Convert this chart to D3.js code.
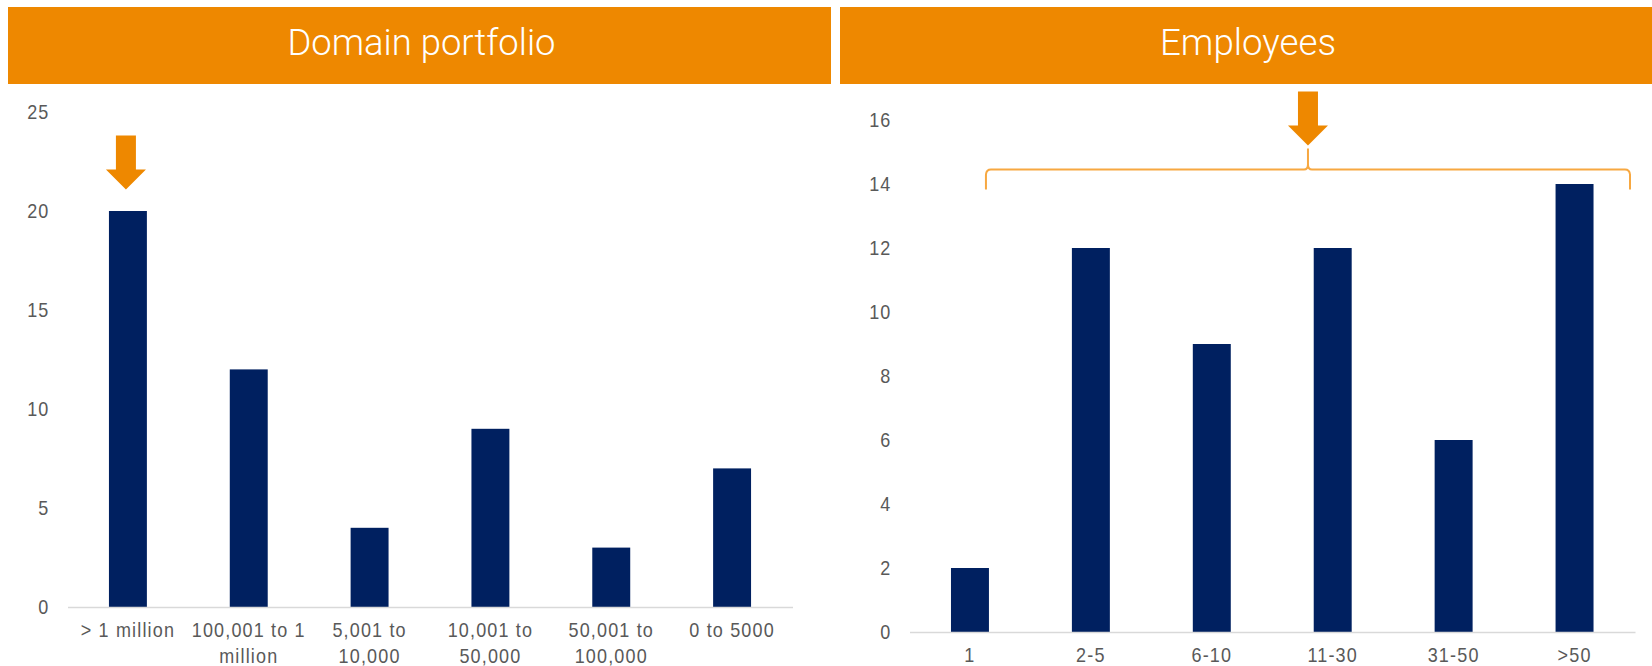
<!DOCTYPE html>
<html>
<head>
<meta charset="utf-8">
<script src="https://cdn.jsdelivr.net/npm/d3@7"></script>
<style>
  html, body { margin: 0; padding: 0; background: #ffffff; }
  svg { display: block; font-family: "Liberation Sans", Arial, sans-serif; }
</style>
</head>
<body>
<svg id="chart" width="1652" height="666"></svg>
<script>
// ---- Data ----
const portfolioCategories = ["> 1 million", "100,001 to 1 million", "5,001 to 10,000", "10,001 to 50,000", "50,001 to 100,000", "0 to 5000"];
const portfolioTickLabels = [["> 1 million"], ["100,001 to 1", "million"], ["5,001 to", "10,000"], ["10,001 to", "50,000"], ["50,001 to", "100,000"], ["0 to 5000"]];
const portfolioValues = [20, 12, 4, 9, 3, 7];
const portfolioTicks = [0, 5, 10, 15, 20, 25];

const employeeCategories = ["1", "2-5", "6-10", "11-30", "31-50", ">50"];
const employeeTickLabels = [["1"], ["2-5"], ["6-10"], ["11-30"], ["31-50"], [">50"]];
const employeeValues = [2, 12, 9, 12, 6, 14];
const employeeTicks = [0, 2, 4, 6, 8, 10, 12, 14, 16];

const panelTitles = ["Domain portfolio", "Employees"];

// ---- Styling ----
const ORANGE = "#EE8800";
const BRACE = "#F7A841";
const NAVY = "#002060";
const TEXT = "#595959";
const AXIS = "#D9D9D9";

const svg = d3.select("#chart");

// Header banners
const banners = [
  { x: 8, w: 823, title: panelTitles[0], tw: 268 },
  { x: 840, w: 812, title: panelTitles[1], tw: 176 }
];
banners.forEach(b => {
  svg.append("rect")
    .attr("x", b.x).attr("y", 7).attr("width", b.w).attr("height", 77)
    .attr("fill", ORANGE);
  svg.append("text")
    .attr("x", b.x + b.w / 2 + 2).attr("y", 55)
    .attr("text-anchor", "middle")
    .attr("fill", "#ffffff")
    .attr("textLength", b.tw)
    .attr("lengthAdjust", "spacingAndGlyphs")
    .style("font-family", "Roboto, 'Open Sans', sans-serif")
    .style("font-weight", 300)
    .style("font-size", "36px")
    .text(b.title);
});

function styleLabel(sel) {
  sel.attr("fill", TEXT)
    .style("font-size", "20px")
    .style("letter-spacing", "1.3px")
    .attr("transform", "scale(0.9,1)");
}

function drawPanel(cfg) {
  const g = svg.append("g");
  const x = d3.scaleBand().domain(cfg.cats).range(cfg.xRange)
    .paddingInner(0.686).paddingOuter(0.343);
  const y = d3.scaleLinear().domain([0, cfg.yMax]).range(cfg.yRange);

  // Bars
  g.selectAll("rect.bar")
    .data(cfg.cats.map((c, i) => ({ c, v: cfg.vals[i] })))
    .join("rect")
    .attr("class", "bar")
    .attr("x", d => x(d.c))
    .attr("width", x.bandwidth())
    .attr("y", d => y(d.v))
    .attr("height", d => y(0) - y(d.v))
    .attr("fill", NAVY);

  // Value axis (labels only)
  const ya = g.append("g")
    .attr("transform", `translate(${cfg.xRange[0]},0)`)
    .call(d3.axisLeft(y).tickValues(cfg.ticks).tickSize(0).tickPadding(20));
  ya.select(".domain").remove();
  ya.selectAll("text").call(styleLabel);

  // Category axis
  const xa = g.append("g")
    .attr("transform", `translate(0,${cfg.yRange[0]})`)
    .call(d3.axisBottom(x).tickSize(0).tickSizeOuter(0).tickPadding(16).tickFormat(() => ""));
  xa.select(".domain").attr("stroke", AXIS).attr("stroke-width", 1.5);
  xa.selectAll(".tick text").each(function (d) {
    const t = d3.select(this).attr("dy", null).call(styleLabel);
    const lines = cfg.labels[cfg.cats.indexOf(d)];
    lines.forEach((ln, i) => {
      t.append("tspan").attr("x", 0).attr("dy", i === 0 ? "0.71em" : "26px").text(ln);
    });
  });
  return { g, x, y };
}

function arrow(g, cx, tipY) {
  const sh = 10, hh = 20, hl = 20, sl = 34;
  const pts = [
    [cx - sh, tipY - hl - sl], [cx + sh, tipY - hl - sl], [cx + sh, tipY - hl],
    [cx + hh, tipY - hl], [cx, tipY], [cx - hh, tipY - hl], [cx - sh, tipY - hl]
  ];
  g.append("polygon").attr("points", pts.map(p => p.join(",")).join(" ")).attr("fill", ORANGE);
}

// Left panel: domain portfolio sizes
const left = drawPanel({
  cats: portfolioCategories, labels: portfolioTickLabels, vals: portfolioValues,
  ticks: portfolioTicks, yMax: 25, xRange: [67.5, 792.5], yRange: [607, 112]
});
arrow(left.g, left.x(portfolioCategories[0]) + left.x.bandwidth() / 2 - 2, left.y(portfolioValues[0]) - 21.5);

// Right panel: company head-count
const right = drawPanel({
  cats: employeeCategories, labels: employeeTickLabels, vals: employeeValues,
  ticks: employeeTicks, yMax: 16, xRange: [909.5, 1635], yRange: [632, 120]
});

// Curly brace grouping the larger teams
const bx0 = right.x(employeeCategories[0]) + right.x.bandwidth() - 3;
const bx1 = right.x.range()[1] - 5;
const bm = (bx0 + bx1) / 2;
const yLine = 169.5, yEnd = 189.5, yTip = 148.5, r = 5;
const brace = d3.path();
brace.moveTo(bx0, yEnd);
brace.lineTo(bx0, yLine + r);
brace.quadraticCurveTo(bx0 + 0.5, yLine, bx0 + r, yLine);
brace.lineTo(bm - 4, yLine);
brace.quadraticCurveTo(bm, yLine, bm, yLine - 5);
brace.lineTo(bm, yTip);
brace.moveTo(bm, yLine - 5);
brace.quadraticCurveTo(bm, yLine, bm + 4, yLine);
brace.lineTo(bx1 - r, yLine);
brace.quadraticCurveTo(bx1 - 0.5, yLine, bx1, yLine + r);
brace.lineTo(bx1, yEnd);
right.g.append("path").attr("d", brace.toString())
  .attr("fill", "none").attr("stroke", BRACE).attr("stroke-width", 2);
arrow(right.g, bm, yTip - 3);
</script>
</body>
</html>
